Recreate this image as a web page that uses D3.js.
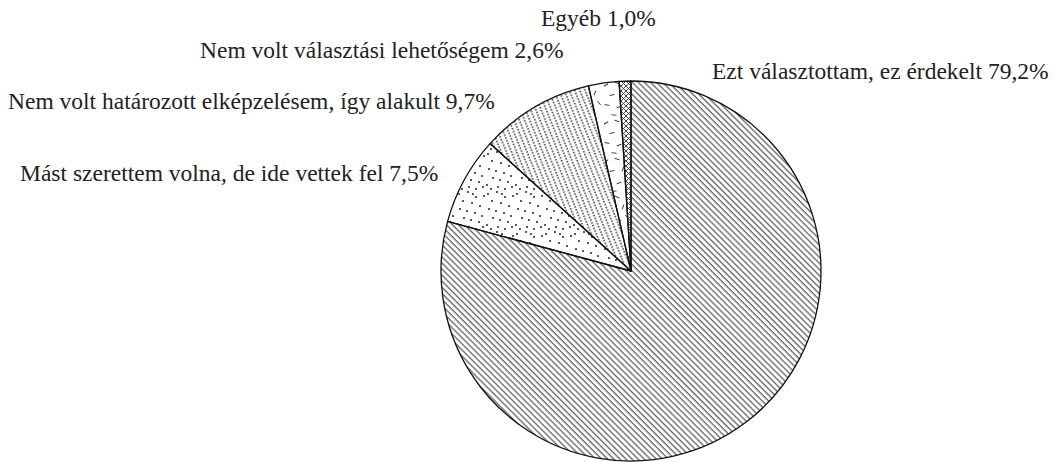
<!DOCTYPE html>
<html>
<head>
<meta charset="utf-8">
<script src="https://cdn.jsdelivr.net/npm/d3@7"></script>
<style>
  html, body { margin: 0; padding: 0; background: #fff; }
  svg { display: block; }
  text { font-family: "Liberation Serif", "Times New Roman", serif; font-size: 23.5px; fill: #222; }
</style>
</head>
<body>
<svg id="chart" width="1059" height="462"></svg>
<script>
// Answers, in clockwise order starting at 12 o'clock
const categories = [
  "Ezt választottam, ez érdekelt",
  "Mást szerettem volna, de ide vettek fel",
  "Nem volt határozott elképzelésem, így alakult",
  "Nem volt választási lehetőségem",
  "Egyéb"
];
const shares = [79.2, 7.5, 9.7, 2.6, 1.0];
const fills = ["hatch", "stipple", "dotline", "dash", "cross"];

// Where each label sits (left edge, baseline)
const labelSpots = [[712, 79], [20, 181], [8, 109], [200, 58], [541, 26]];

const svg = d3.select("#chart");
const cx = 631, cy = 271, r = 190;
const ink = "#333";

const defs = svg.append("defs");

// diagonal "\" hatch
const ph = defs.append("pattern").attr("id", "hatch")
  .attr("patternUnits", "userSpaceOnUse").attr("width", 4.3).attr("height", 10)
  .attr("patternTransform", "rotate(-45)");
ph.append("line").attr("x1", 1).attr("y1", 0).attr("x2", 1).attr("y2", 10)
  .attr("stroke", ink).attr("stroke-width", 1);

// steep dotted lines
const pd = defs.append("pattern").attr("id", "dotline")
  .attr("patternUnits", "userSpaceOnUse").attr("width", 4.8).attr("height", 3)
  .attr("patternTransform", "rotate(-22)");
pd.append("line").attr("x1", 1).attr("y1", 0).attr("x2", 1).attr("y2", 3)
  .attr("stroke", "#1a1a1a").attr("stroke-width", 1.4).attr("stroke-dasharray", "1.5,1.5");

// cross hatch
const pc = defs.append("pattern").attr("id", "cross")
  .attr("patternUnits", "userSpaceOnUse").attr("width", 5).attr("height", 5);
pc.append("path").attr("d", "M0,0L5,5M5,0L0,5M-1,4L1,6M4,-1L6,1")
  .attr("stroke", ink).attr("stroke-width", 0.9).attr("fill", "none");

// scattered dots
const stippleDots = [[2,3],[11,1],[19,6],[6,10],[15,12],[23,15],[3,18],[10,20],[18,22],[25,25],
  [7,27],[14,29],[22,31],[1,34],[12,36],[19,38],[27,5],[26,36],[5,38],[16,3]];
const ps = defs.append("pattern").attr("id", "stipple")
  .attr("patternUnits", "userSpaceOnUse").attr("width", 29).attr("height", 40);
ps.selectAll("circle").data(stippleDots).join("circle")
  .attr("cx", d => d[0]).attr("cy", d => d[1]).attr("r", 1).attr("fill", "#222");

// sparse short dashes
const dashBits = [[3,4,60],[14,2,110],[9,14,80],[20,12,20],[4,24,100],[16,26,70],[24,22,140],[11,34,95]];
const pq = defs.append("pattern").attr("id", "dash")
  .attr("patternUnits", "userSpaceOnUse").attr("width", 28).attr("height", 38);
pq.selectAll("line").data(dashBits).join("line")
  .attr("x1", 0).attr("y1", -2.5).attr("x2", 0).attr("y2", 2.5)
  .attr("transform", d => `translate(${d[0]},${d[1]}) rotate(${d[2]})`)
  .attr("stroke", ink).attr("stroke-width", 0.9);

const pie = d3.pie().sort(null).value(d => d);
const arcs = pie(shares);
const arc = d3.arc().innerRadius(0).outerRadius(r);

const g = svg.append("g").attr("transform", `translate(${cx},${cy})`);
g.selectAll("path").data(arcs).join("path")
  .attr("d", arc)
  .attr("fill", (d, i) => `url(#${fills[i]})`)
  .attr("stroke", "#111")
  .attr("stroke-width", 1.3)
  .attr("stroke-linejoin", "round");

const fmt = v => d3.format(".1f")(v).replace(".", ",") + "%";
svg.selectAll("text.lbl").data(categories).join("text")
  .attr("class", "lbl")
  .attr("x", (d, i) => labelSpots[i][0])
  .attr("y", (d, i) => labelSpots[i][1])
  .text((d, i) => `${d} ${fmt(shares[i])}`);
</script>
</body>
</html>
